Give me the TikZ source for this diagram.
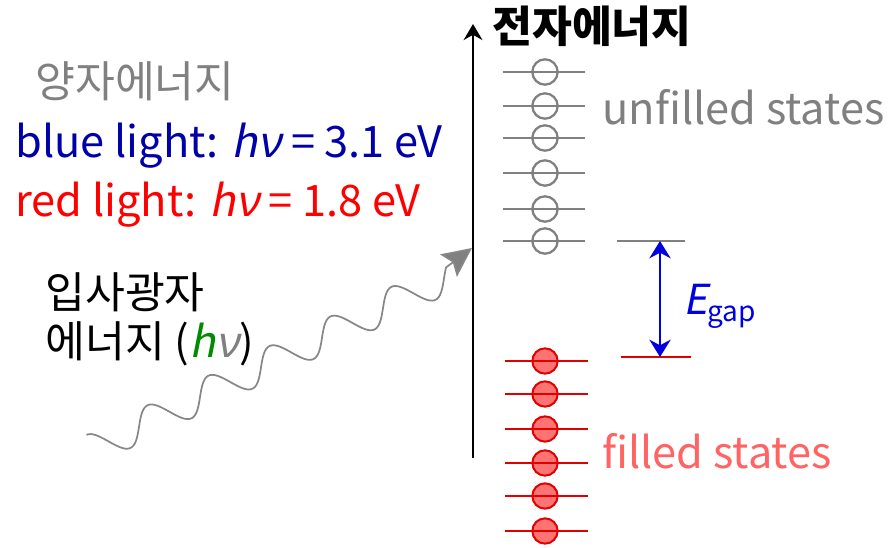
\documentclass[tikz,border=0pt]{standalone}
\usepackage{fontspec}
\setmainfont{Noto Sans CJK KR}
\newfontfamily\slfont[FakeSlant=0.2]{Noto Sans CJK KR}
\newfontfamily\grfont[FakeSlant=0.2]{Noto Sans}
\usepackage{tikz}
\usetikzlibrary{arrows.meta,positioning}
\definecolor{levelgray}{RGB}{128,128,128}
\definecolor{wavegray}{RGB}{135,135,135}
\definecolor{darkblue}{RGB}{0,0,170}
\definecolor{gapblue}{RGB}{0,0,225}
\definecolor{levelred}{RGB}{225,0,0}
\definecolor{lightred}{RGB}{255,100,100}
\definecolor{hgreen}{RGB}{0,140,0}
\newcommand{\hnu}{{\slfont h}\kern1pt{\grfont ν}}
% photon wave: wavelength, amplitude, tilt
\def\wavelen{67.8}
\def\waveamp{15.5}
\def\waveang{25.9}

\begin{document}
\begin{tikzpicture}[x=0.75pt,y=-0.75pt,>=Stealth,
  every node/.style={font=\fontsize{32.5}{38}\selectfont,inner sep=0pt,anchor=base west},
  emptystate/.style={circle,draw=levelgray,line width=1.7pt,minimum size=19pt,anchor=center},
  fullstate/.style={circle,draw=levelred,line width=1.5pt,fill=red,fill opacity=0.55,draw opacity=1,minimum size=19pt,anchor=center},
  unfilledlevel/.style={levelgray,line width=1.8pt},
  filledlevel/.style={levelred,line width=1.8pt},
  wavearrow/.style={wavegray,line width=1.3pt,-{Stealth[length=22pt,width=21pt,inset=4pt,fill=levelgray]}}]
\useasboundingbox (0,0) rectangle (895,548);

% energy axis
\coordinate (axbot) at (473,458);
\coordinate (axtop) at (473,24);
\draw[line width=2.2pt,-{Stealth[length=12pt,width=14pt]}] (axbot) -- (axtop);
\node[font=\fontsize{32.5}{38}\selectfont\bfseries] (axislabel) at (492,43) {전자에너지};

% unfilled and filled states
\foreach \yy [count=\i] in {72,106,138,173,209,241}{
  \node[emptystate] (u\i) at (545,\yy) {};
  \draw[unfilledlevel] (503,\yy) -- (585,\yy);
}
\foreach \yy [count=\i] in {361,394,429,463,496,531}{
  \node[fullstate] (f\i) at (545,\yy) {};
  \draw[filledlevel] (505,\yy) -- (588,\yy);
}
\node[text=levelgray] (unfilled) at (602,125) {unfilled states};
\node[text=lightred] (filled) at (602,468) {filled states};

% band gap
\coordinate (gtop) at (660,241);
\coordinate (gbot) at (660,357);
\draw[unfilledlevel] (617,241) -- (685,241);
\draw[filledlevel] (621,357) -- (691,357);
\draw[gapblue,line width=1.7pt,{Stealth[length=13pt,width=16pt]}-{Stealth[length=13pt,width=16pt]}] (gtop) -- (gbot);
\node[text=gapblue,font=\fontsize{31}{36}\selectfont] (egap) at (683,315) {{\slfont E}\raisebox{-5pt}{\fontsize{21}{21}\selectfont gap}};

% photon
\node[text=levelgray] (quantum) at (35,98) {양자에너지};
\node[text=darkblue] (bluelight) at (15,158) {blue light: \hnu\ = 3.1 eV};
\node[text=red] (redlight) at (15,217) {red light: \hnu\ = 1.8 eV};
\node (photon1) at (45,309) {입사광자};
\node (photon2) at (45,358) {에너지 ({\color{hgreen}\slfont h}\kern1pt{\color{levelgray}\grfont ν})};
\coordinate (wtip) at (472,248);
\draw[wavearrow] plot[domain=0:396.6,samples=180,smooth]
  ({93.3+\x*cos(\waveang)-\waveamp*cos(\x/\wavelen*360)*sin(\waveang)},
   {448.8-\x*sin(\waveang)-\waveamp*cos(\x/\wavelen*360)*cos(\waveang)}) -- (wtip);
\end{tikzpicture}
\end{document}
